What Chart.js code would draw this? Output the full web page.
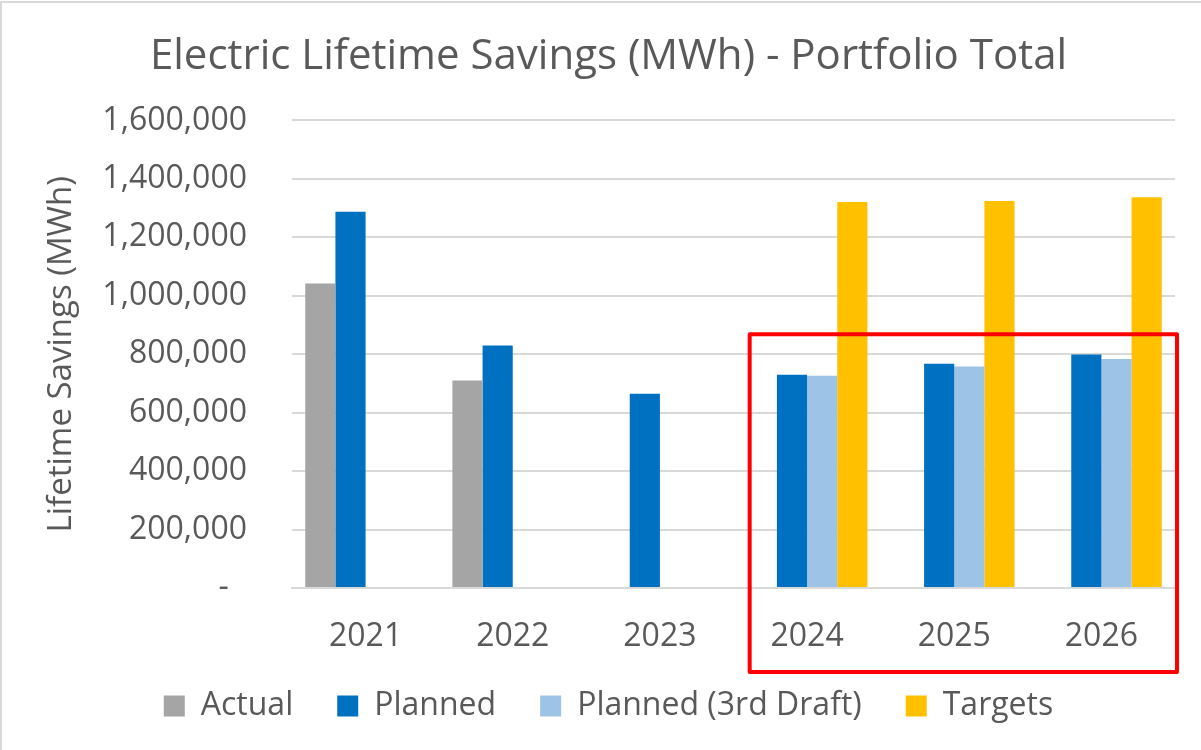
<!DOCTYPE html>
<html>
<head>
<meta charset="utf-8">
<script src="https://cdn.jsdelivr.net/npm/chart.js@4.4.1/dist/chart.umd.min.js"></script>
<style>
  html, body { margin: 0; padding: 0; background: #fff; }
  #wrap { width: 1201px; height: 750px; position: relative; }
</style>
</head>
<body>
<div id="wrap"><canvas id="chart"></canvas></div>
<script>
// data
const years = ['2021', '2022', '2023', '2024', '2025', '2026'];
const actual = [1042000, 710000, null, null, null, null];
const planned = [1287000, 830000, 665000, 730000, 767000, 799000];
const planned3rd = [null, null, null, 726000, 758000, 784000];
const targets = [null, null, null, 1321000, 1324000, 1337000];

// highlighted years (red box) and the value where its top edge sits
const highlightFirst = 3;
const highlightTopValue = 868000;

const FONT = "'Open Sans', sans-serif";
const TEXT = '#595959';

// red box around 2024-2026 + light frame of the chart
const decorations = {
  id: 'decorations',
  afterDraw(chart) {
    const { ctx, chartArea, scales } = chart;
    const x = scales.x, y = scales.y;
    const catW = (chartArea.right - chartArea.left) / years.length;
    const left = x.getPixelForValue(highlightFirst) - catW * 0.39;
    const right = chartArea.right + 2;
    const top = y.getPixelForValue(highlightTopValue);
    const bottom = chartArea.bottom + 84;
    ctx.save();
    ctx.strokeStyle = '#ff0000';
    ctx.lineWidth = 4;
    ctx.lineJoin = 'round';
    ctx.strokeRect(left, top, right - left, bottom - top);

    ctx.strokeStyle = '#d9d9d9';
    ctx.lineWidth = 2;
    ctx.beginPath();
    ctx.moveTo(1, chart.height);
    ctx.lineTo(1, 2);
    ctx.lineTo(chart.width, 2);
    ctx.stroke();
    ctx.restore();
  }
};

new Chart(document.getElementById('chart'), {
  type: 'bar',
  data: {
    labels: years,
    datasets: [
      { label: 'Actual', data: actual, backgroundColor: '#a5a5a5' },
      { label: 'Planned', data: planned, backgroundColor: '#0070c0' },
      { label: 'Planned (3rd Draft)', data: planned3rd, backgroundColor: '#9dc3e6' },
      { label: 'Targets', data: targets, backgroundColor: '#ffc000' }
    ]
  },
  options: {
    responsive: true,
    maintainAspectRatio: false,
    animation: false,
    layout: { padding: { left: 42, right: 26, top: 0, bottom: 18 } },
    datasets: {
      bar: { categoryPercentage: 0.82, barPercentage: 1.0, borderWidth: 0 }
    },
    scales: {
      x: {
        grid: { display: false, drawTicks: false },
        border: { color: '#d9d9d9', width: 2 },
        ticks: { color: TEXT, font: { family: FONT, size: 32, lineHeight: 1 }, padding: 33 }
      },
      y: {
        min: 0,
        max: 1600000,
        afterFit(scale) { scale.width = 250; },
        grid: { color: '#d9d9d9', lineWidth: 2, drawTicks: false },
        border: { display: false },
        ticks: {
          stepSize: 200000,
          color: TEXT,
          font: { family: FONT, size: 32 },
          padding: 45,
          callback: v => v === 0 ? '-\u2007' : v.toLocaleString('en-US')
        },
        title: {
          display: true,
          text: 'Lifetime Savings (MWh)',
          color: TEXT,
          font: { family: FONT, size: 33 },
          padding: { top: 0, bottom: 0 }
        }
      }
    },
    plugins: {
      title: {
        display: true,
        text: 'Electric Lifetime Savings (MWh) - Portfolio Total',
        color: TEXT,
        font: { family: FONT, size: 42, weight: 'normal' },
        padding: { top: 32, bottom: 38 }
      },
      legend: {
        position: 'bottom',
        labels: {
          color: TEXT,
          font: { family: FONT, size: 32 },
          boxWidth: 21,
          boxHeight: 21,
          padding: 4,
          // wider gaps between entries, as in the original legend
          generateLabels(chart) {
            const items = Chart.defaults.plugins.legend.labels.generateLabels(chart);
            items.forEach((it, i) => { if (i < items.length - 1) it.text = it.text + '\u2003\u2005'; });
            return items;
          }
        }
      },
      tooltip: { enabled: false }
    }
  },
  plugins: [decorations]
});
</script>
</body>
</html>
